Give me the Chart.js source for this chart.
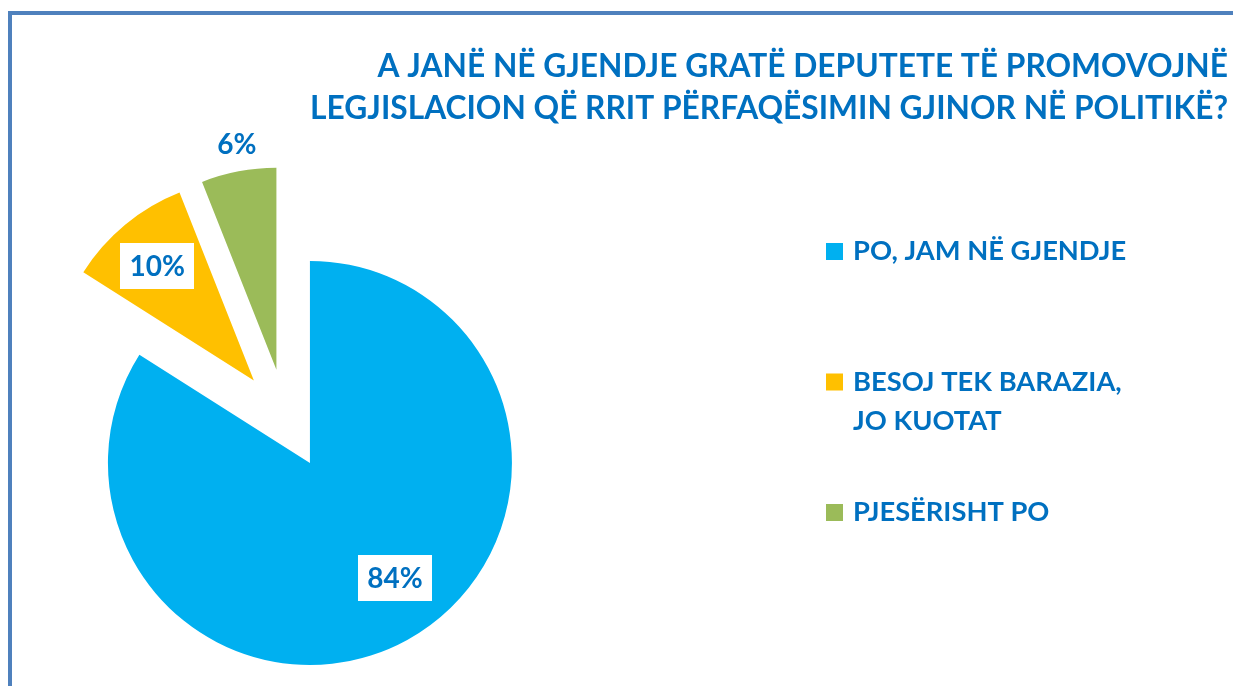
<!DOCTYPE html>
<html>
<head>
<meta charset="utf-8">
<script src="https://cdn.jsdelivr.net/npm/chart.js@4.4.1/dist/chart.umd.min.js"></script>
<style>
  html, body { margin: 0; padding: 0; background: #fff; overflow: hidden; }
  #wrap { position: relative; width: 1233px; height: 686px; overflow: hidden; }
  #frame { position: absolute; left: 8px; top: 11px; width: 1400px; height: 900px;
           border: 4px solid #4f81bd; box-sizing: border-box; }
  canvas { position: absolute; left: 0; top: 0; }
</style>
</head>
<body>
<div id="wrap">
  <div id="frame"></div>
  <canvas id="chart" width="1233" height="686"></canvas>
</div>
<script>
// Survey question, answers and shares (%)
const titleLines = [
  'A JANË NË GJENDJE GRATË DEPUTETE TË PROMOVOJNË',
  'LEGJISLACION QË RRIT PËRFAQËSIMIN GJINOR NË POLITIKË?'
];
const categories = ['PO, JAM NË GJENDJE', ['BESOJ TEK BARAZIA,', 'JO KUOTAT'], 'PJESËRISHT PO'];
const shares = [84, 10, 6];
const sliceColors = ['#00b0f0', '#ffc000', '#9bbb59'];

// Styling
const textColor = '#0070c0';
const fontFamily = 'Lato, "Open Sans", sans-serif';
const explodeRatio = 0.248;            // slice explosion, as a share of the radius
const labelAlong = [0.475, 0.48, 0.54]; // where along each slice's sweep the label sits
const labelDist = [0.71, 0.74, 1.135];  // label distance from the slice tip, in radii
const labelBoxed = [true, true, false];

// Pushes every slice outwards from the centre before the arc draws itself
const explodePlugin = {
  id: 'explodeSlices',
  beforeDatasetDraw(chart, args) {
    const ctx = chart.ctx;
    args.meta.data.forEach(arc => {
      const mid = (arc.startAngle + arc.endAngle) / 2;
      const d = explodeRatio * arc.outerRadius;
      ctx.save();
      ctx.translate(Math.cos(mid) * d, Math.sin(mid) * d);
      arc.draw(ctx);
      ctx.restore();
    });
    return false;
  }
};

// Percentage labels on / beside each slice
const valueLabelPlugin = {
  id: 'valueLabels',
  afterDatasetsDraw(chart) {
    const ctx = chart.ctx;
    const meta = chart.getDatasetMeta(0);
    ctx.save();
    ctx.font = 'bold 28px ' + fontFamily;
    ctx.textAlign = 'center';
    ctx.textBaseline = 'middle';
    meta.data.forEach((arc, i) => {
      const mid = (arc.startAngle + arc.endAngle) / 2;
      const d = explodeRatio * arc.outerRadius;
      const tipX = arc.x + Math.cos(mid) * d;
      const tipY = arc.y + Math.sin(mid) * d;
      const a = arc.startAngle + labelAlong[i] * (arc.endAngle - arc.startAngle);
      const r = labelDist[i] * arc.outerRadius;
      const x = tipX + Math.cos(a) * r;
      const y = tipY + Math.sin(a) * r;
      const text = shares[i] + '%';
      if (labelBoxed[i]) {
        const w = ctx.measureText(text).width + 19;
        const h = 46;
        ctx.fillStyle = '#ffffff';
        ctx.fillRect(Math.round(x - w / 2), Math.round(y - h / 2), Math.round(w), h);
      }
      ctx.fillStyle = textColor;
      ctx.fillText(text, x, y + 1);
    });
    ctx.restore();
  }
};

// Title and legend drawn to the right of the pie
const textPlugin = {
  id: 'titleAndLegend',
  afterDraw(chart) {
    const ctx = chart.ctx;
    ctx.save();
    ctx.fillStyle = textColor;
    ctx.textBaseline = 'alphabetic';

    ctx.font = 'bold 31.7px ' + fontFamily;
    ctx.textAlign = 'right';
    titleLines.forEach((line, i) => ctx.fillText(line, 1228, 77 + i * 42));

    ctx.font = 'bold 27.3px ' + fontFamily;
    ctx.textAlign = 'left';
    const rowTop = 260, rowStep = 130.5, lineStep = 39;
    categories.forEach((label, i) => {
      const base = rowTop + i * rowStep;
      ctx.fillStyle = sliceColors[i];
      ctx.fillRect(826, base - 17, 17, 17);
      ctx.fillStyle = textColor;
      const lines = Array.isArray(label) ? label : [label];
      lines.forEach((ln, j) => ctx.fillText(ln, 853, base + j * lineStep));
    });
    ctx.restore();
  }
};

new Chart(document.getElementById('chart'), {
  type: 'pie',
  data: {
    labels: categories,
    datasets: [{
      data: shares,
      backgroundColor: sliceColors,
      borderWidth: 0,
      radius: 202
    }]
  },
  options: {
    responsive: false,
    animation: false,
    devicePixelRatio: 1,
    layout: { padding: { left: 0, right: 661.4, top: 152, bottom: 0 } },
    plugins: {
      legend: { display: false },
      title: { display: false },
      tooltip: { enabled: false }
    }
  },
  plugins: [explodePlugin, valueLabelPlugin, textPlugin]
});
</script>
</body>
</html>
